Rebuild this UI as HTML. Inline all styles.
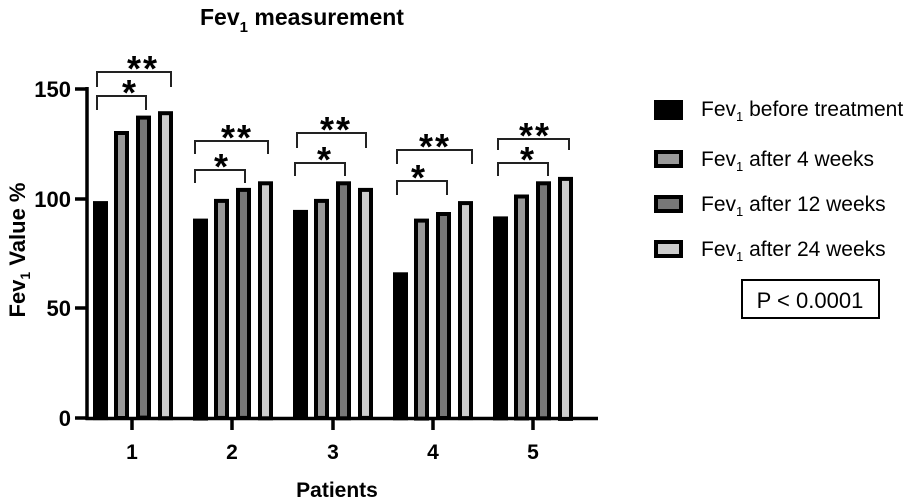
<!DOCTYPE html>
<html><head><style>body{margin:0;background:#fff}svg{display:block}text{font-family:"Liberation Sans",Arial,sans-serif}</style></head>
<body>
<svg width="919" height="499" viewBox="0 0 919 499" xmlns="http://www.w3.org/2000/svg">
<text x="200" y="25" font-size="23" font-weight="bold">Fev<tspan font-size="15" dy="7">1</tspan><tspan dy="-7"> measurement</tspan></text>
<text transform="translate(25,250) rotate(-90)" text-anchor="middle" font-size="22" font-weight="bold">Fev<tspan font-size="14" dy="5">1</tspan><tspan dy="-5"> Value %</tspan></text>
<text x="337" y="497" text-anchor="middle" font-size="21" font-weight="bold">Patients</text>
<g stroke="#000" stroke-width="3.5" fill="none">
<line x1="87" y1="87" x2="87" y2="420"/>
<line x1="85.5" y1="418.5" x2="598" y2="418.5"/>
<line x1="75" y1="89" x2="87" y2="89"/><line x1="75" y1="199" x2="87" y2="199"/><line x1="75" y1="308" x2="87" y2="308"/><line x1="75" y1="418" x2="87" y2="418"/>
<line x1="132" y1="418" x2="132" y2="430"/><line x1="232" y1="418" x2="232" y2="430"/><line x1="333" y1="418" x2="333" y2="430"/><line x1="433" y1="418" x2="433" y2="430"/><line x1="533" y1="418" x2="533" y2="430"/>
</g>
<g font-size="22" font-weight="bold" text-anchor="end">
<text x="71" y="97">150</text><text x="71" y="207">100</text><text x="71" y="316">50</text><text x="71" y="426">0</text>
</g>
<g font-size="21" font-weight="bold" text-anchor="middle">
<text x="132" y="459">1</text><text x="232" y="459">2</text><text x="333" y="459">3</text><text x="433" y="459">4</text><text x="533" y="459">5</text>
</g>
<g stroke="#222" stroke-width="2" fill="none">
<polyline points="97,110 97,96 146,96 146,110"/><polyline points="97,87 97,72 171,72 171,87"/>
<polyline points="195,183 195,170 245,170 245,183"/><polyline points="195,154 195,141 268,141 268,154"/>
<polyline points="295,176 295,163 345,163 345,176"/><polyline points="297,148 297,133 366,133 366,148"/>
<polyline points="397,195 397,181 447,181 447,195"/><polyline points="397,164 397,150 472,150 472,164"/>
<polyline points="498,176 498,163 548,163 548,176"/><polyline points="498,150 498,139 569,139 569,150"/>
</g>
<g font-size="36" font-weight="bold" text-anchor="middle" letter-spacing="2">
<text x="130" y="105">*</text><text x="143" y="81">**</text>
<text x="222" y="179">*</text><text x="237" y="150">**</text>
<text x="325" y="172">*</text><text x="336" y="142">**</text>
<text x="419" y="190">*</text><text x="435" y="159">**</text>
<text x="528" y="172">*</text><text x="535" y="148">**</text>
</g>
<g stroke="#000" stroke-width="4">
<rect x="656" y="102" width="25" height="16" fill="#000"/>
<rect x="656" y="152" width="25" height="14" fill="#999"/>
<rect x="656" y="197" width="25" height="14" fill="#777"/>
<rect x="656" y="242" width="25" height="14" fill="#ccc"/>
</g>
<g font-size="21">
<text x="701" y="116">Fev<tspan font-size="13" dy="5">1</tspan><tspan dy="-5"> before treatment</tspan></text>
<text x="701" y="166">Fev<tspan font-size="13" dy="5">1</tspan><tspan dy="-5"> after 4 weeks</tspan></text>
<text x="701" y="211">Fev<tspan font-size="13" dy="5">1</tspan><tspan dy="-5"> after 12 weeks</tspan></text>
<text x="701" y="256">Fev<tspan font-size="13" dy="5">1</tspan><tspan dy="-5"> after 24 weeks</tspan></text>
</g>
<rect x="742" y="280" width="137" height="38" fill="none" stroke="#000" stroke-width="2"/>
<text x="810" y="308" font-size="22" text-anchor="middle">P &lt; 0.0001</text>
<g stroke="#000" stroke-width="4">
<rect x="95" y="203.1" width="11" height="215" fill="#000"/><rect x="116" y="133" width="11" height="285" fill="#999"/><rect x="138" y="117.6" width="11" height="300" fill="#777"/><rect x="160" y="113.2" width="11" height="305" fill="#ccc"/>
<rect x="195" y="220.6" width="11" height="198" fill="#000"/><rect x="216" y="200.9" width="11" height="217" fill="#999"/><rect x="238" y="189.9" width="11" height="228" fill="#777"/><rect x="260" y="183.3" width="11" height="235" fill="#ccc"/>
<rect x="295" y="211.9" width="11" height="206" fill="#000"/><rect x="316" y="200.9" width="11" height="217" fill="#999"/><rect x="338" y="183.3" width="11" height="235" fill="#777"/><rect x="360" y="189.9" width="11" height="228" fill="#ccc"/>
<rect x="395" y="274.3" width="11" height="144" fill="#000"/><rect x="416" y="220.6" width="11" height="198" fill="#999"/><rect x="438" y="214" width="11" height="204" fill="#777"/><rect x="460" y="203.1" width="11" height="215" fill="#ccc"/>
<rect x="495" y="218.4" width="11" height="200" fill="#000"/><rect x="516" y="196.5" width="11" height="222" fill="#999"/><rect x="538" y="183.3" width="11" height="235" fill="#777"/><rect x="560" y="178.9" width="11" height="240" fill="#ccc"/>
</g>
</svg>
</body></html>
